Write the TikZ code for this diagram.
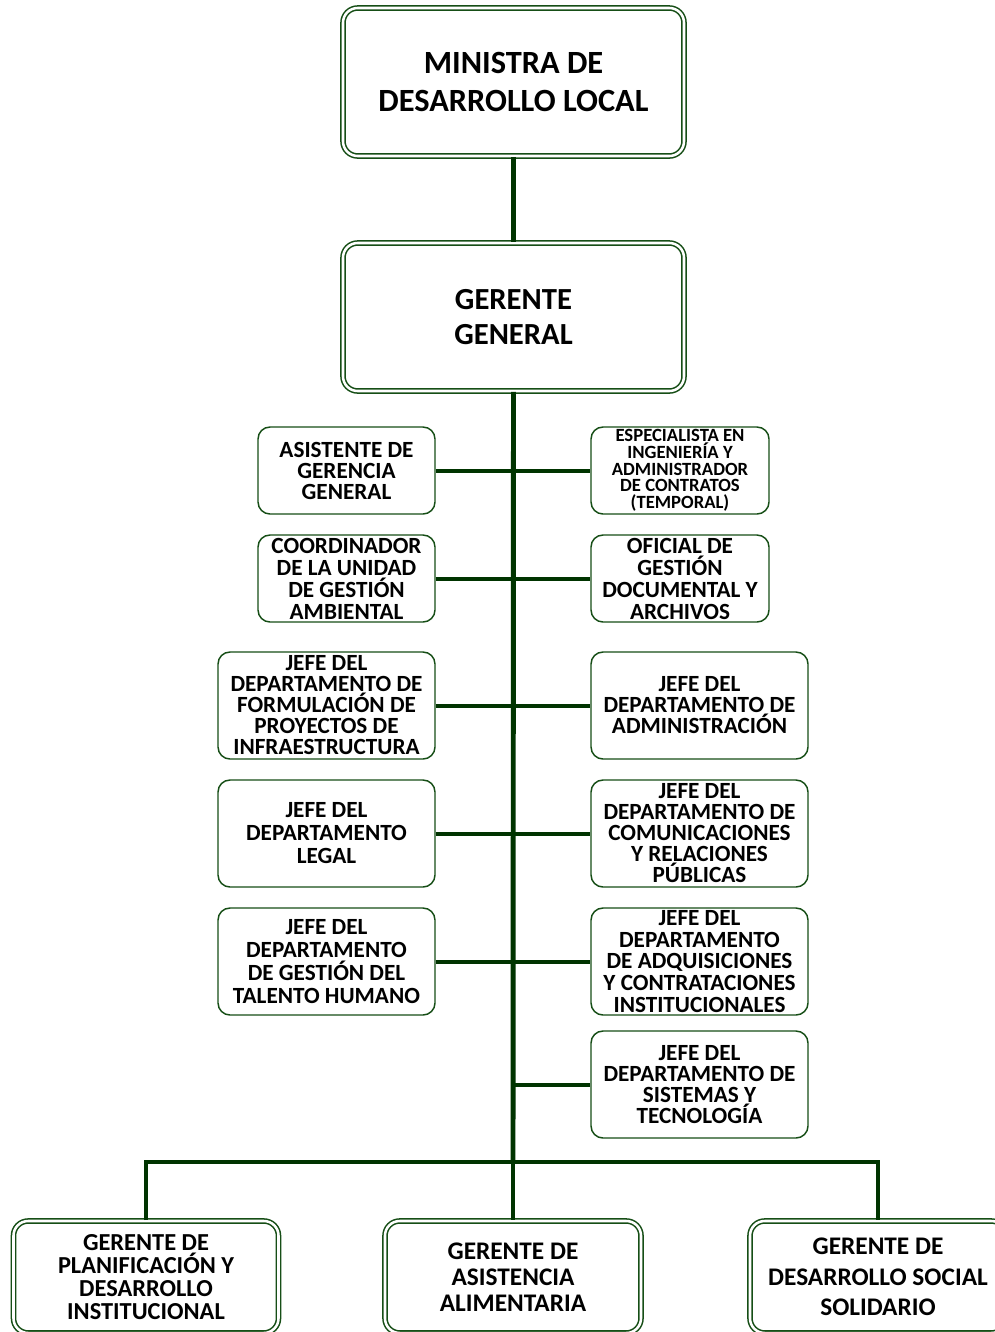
\documentclass[tikz,border=0pt]{standalone}
\usepackage{fontspec}
\setmainfont{Carlito}
\definecolor{linegreen}{RGB}{0,52,0}
\definecolor{boxgreen}{RGB}{22,78,22}
\tikzset{
  onebox/.style={draw=boxgreen, line width=1.1pt, rounded corners=9pt, inner sep=0pt, fill=white},
  twobox/.style={draw=boxgreen, double=white, double distance=1.9pt, line width=1.15pt, rounded corners=11pt, inner sep=0pt, fill=white},
  lab/.style={align=center, inner sep=0pt, font=\bfseries\fontsize{17.4}{15.75}\selectfont},
  conn/.style={draw=linegreen, line width=3pt},
  trunkline/.style={draw=linegreen, line width=3.7pt},
}
\begin{document}
\begin{tikzpicture}[x=0.75pt,y=-0.75pt]
\clip (0,0) rectangle (995,1332);
\fill[white] (0,0) rectangle (995,1332);
% top boxes
\node[twobox, minimum width=255.75pt, minimum height=111pt] (min) at (513.5,82) {};
\node[twobox, minimum width=255.75pt, minimum height=111pt] (gg) at (513.5,317) {};
% small boxes
\node[onebox, minimum width=132.75pt, minimum height=65.25pt] (l1) at (346.5,470.5) {};
\node[onebox, minimum width=132.75pt, minimum height=65.25pt] (l2) at (346.5,578.5) {};
\node[onebox, minimum width=133.5pt, minimum height=65.25pt] (r1) at (680,470.5) {};
\node[onebox, minimum width=133.5pt, minimum height=65.25pt] (r2) at (680,578.5) {};
\node[onebox, minimum width=162.75pt, minimum height=80.25pt] (l3) at (326.5,705.5) {};
\node[onebox, minimum width=162.75pt, minimum height=80.25pt] (l4) at (326.5,833.5) {};
\node[onebox, minimum width=162.75pt, minimum height=80.25pt] (l5) at (326.5,961.5) {};
\node[onebox, minimum width=162.75pt, minimum height=80.25pt] (r3) at (699.5,705.5) {};
\node[onebox, minimum width=162.75pt, minimum height=80.25pt] (r4) at (699.5,833.5) {};
\node[onebox, minimum width=162.75pt, minimum height=80.25pt] (r5) at (699.5,961.5) {};
\node[onebox, minimum width=162.75pt, minimum height=80.25pt] (r6) at (699.5,1084.5) {};
% bottom boxes
\node[twobox, minimum width=198.75pt, minimum height=84pt] (bl) at (146,1277) {};
\node[twobox, minimum width=192pt, minimum height=84pt] (bm) at (513,1277) {};
\node[twobox, minimum width=192pt, minimum height=84pt] (br) at (878,1277) {};
% hub
\coordinate (hub) at (513,1162);
% connectors
\draw[trunkline] (min.south) -- (gg.north);
\draw[conn] (bl.north) |- (hub) -| (br.north);
\draw[conn] (hub) -- (bm.north);
\draw[conn] (l1.east) -- (r1.west);
\draw[conn] (l2.east) -- (r2.west);
\draw[conn] (l3.east) -- (r3.west);
\draw[conn] (l4.east) -- (r4.west);
\draw[conn] (l5.east) -- (r5.west);
\draw[conn] (gg.south |- r6.west) -- (r6.west);
\draw[trunkline] (gg.south) -- (hub);
% labels
\node[lab, font=\bfseries\fontsize{24.3}{28.5}\selectfont] (mint) at (min) {MINISTRA DE\\DESARROLLO LOCAL};
\node[lab, font=\bfseries\fontsize{23}{26.2}\selectfont] (ggt) at (gg) {GERENTE\\GENERAL};
\node[lab] (l1t) at (l1) {ASISTENTE DE\\GERENCIA\\GENERAL};
\node[lab, font=\bfseries\fontsize{14}{12.5}\selectfont] (r1t) at (r1) {ESPECIALISTA EN\\INGENIERÍA Y\\ADMINISTRADOR\\DE CONTRATOS\\(TEMPORAL)};
\node[lab, font=\bfseries\fontsize{17.4}{16.5}\selectfont] (l2t) at (l2) {COORDINADOR\\DE LA UNIDAD\\DE GESTIÓN\\AMBIENTAL};
\node[lab, font=\bfseries\fontsize{17.4}{16.5}\selectfont] (r2t) at (r2) {OFICIAL DE\\GESTIÓN\\DOCUMENTAL Y\\ARCHIVOS};
\node[lab] (l3t) at (l3) {JEFE DEL\\DEPARTAMENTO DE\\FORMULACIÓN DE\\PROYECTOS DE\\INFRAESTRUCTURA};
\node[lab] (r3t) at (r3) {JEFE DEL\\DEPARTAMENTO DE\\ADMINISTRACIÓN};
\node[lab, font=\bfseries\fontsize{17.4}{17.25}\selectfont] (l4t) at (l4) {JEFE DEL\\DEPARTAMENTO\\LEGAL};
\node[lab] (r4t) at (r4) {JEFE DEL\\DEPARTAMENTO DE\\COMUNICACIONES\\Y RELACIONES\\PÚBLICAS};
\node[lab, font=\bfseries\fontsize{17.4}{17.25}\selectfont] (l5t) at (l5) {JEFE DEL\\DEPARTAMENTO\\DE GESTIÓN DEL\\TALENTO HUMANO};
\node[lab, font=\bfseries\fontsize{17.4}{16.3}\selectfont] (r5t) at (r5) {JEFE DEL\\DEPARTAMENTO\\DE ADQUISICIONES\\Y CONTRATACIONES\\INSTITUCIONALES};
\node[lab] (r6t) at (r6) {JEFE DEL\\DEPARTAMENTO DE\\SISTEMAS Y\\TECNOLOGÍA};
\node[lab, font=\bfseries\fontsize{18.3}{17.2}\selectfont] (blt) at (bl) {GERENTE DE\\PLANIFICACIÓN Y\\DESARROLLO\\INSTITUCIONAL};
\node[lab, font=\bfseries\fontsize{19}{19.5}\selectfont] (bmt) at (bm) {GERENTE DE\\ASISTENCIA\\ALIMENTARIA};
\node[lab, font=\bfseries\fontsize{19}{23}\selectfont] (brt) at (br) {GERENTE DE\\DESARROLLO SOCIAL\\SOLIDARIO};
\end{tikzpicture}
\end{document}
